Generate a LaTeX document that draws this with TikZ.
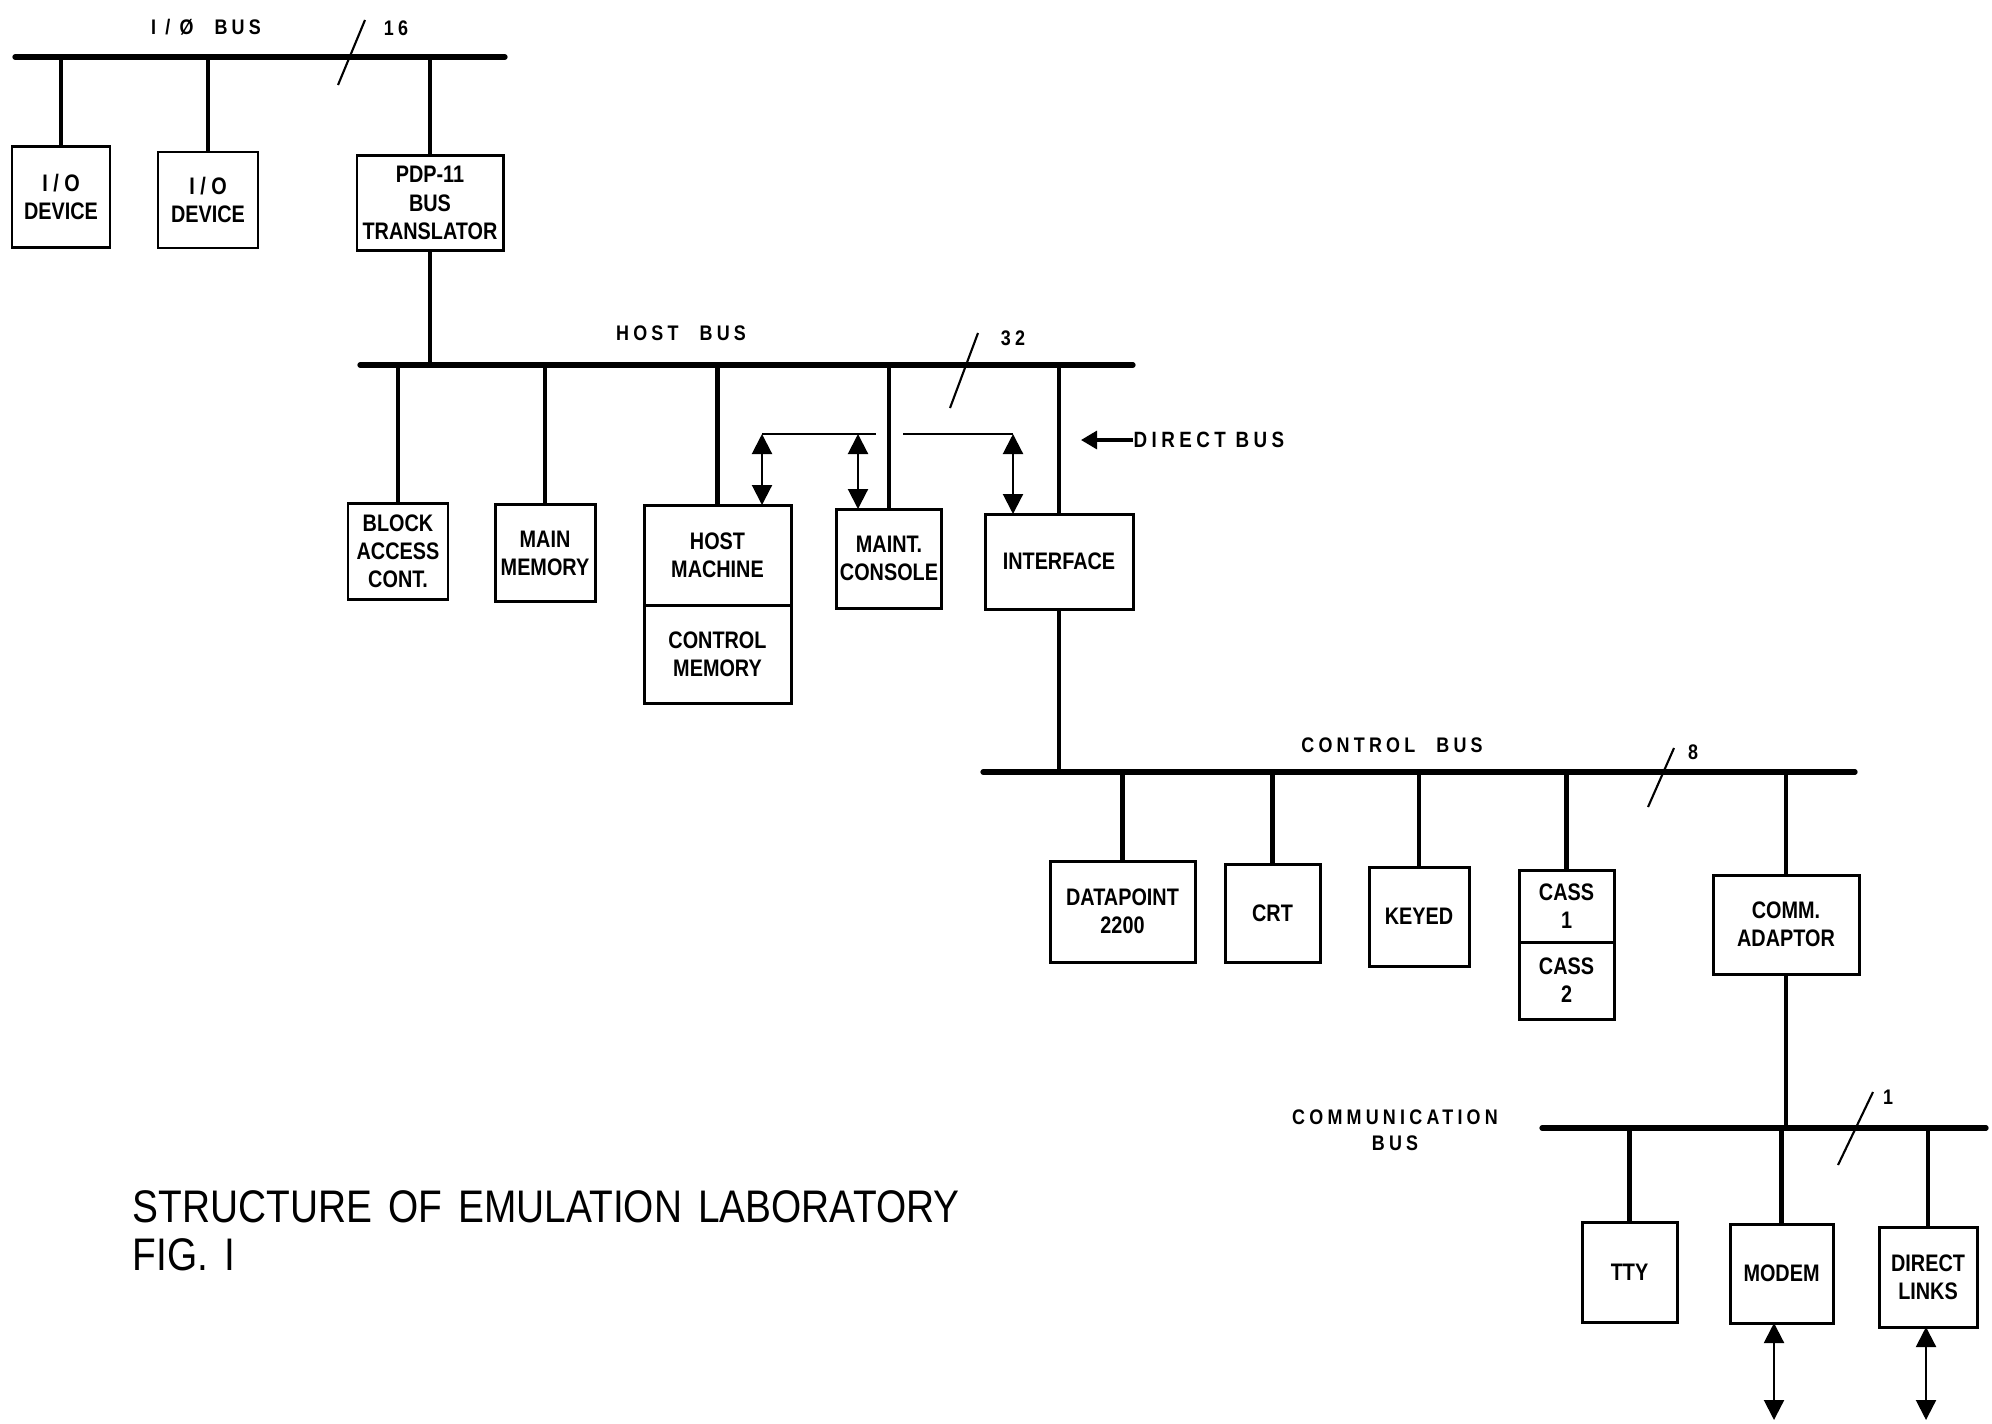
\documentclass[tikz,border=0pt]{standalone}
\usepackage{fontspec}
\usepackage{tikz}
\usetikzlibrary{positioning,arrows.meta,calc}
\newfontfamily\boxfont{Liberation Sans}[FakeStretch=0.83]
\newfontfamily\busfont{Liberation Sans}[FakeStretch=0.85,LetterSpace=20]
\newfontfamily\ttlfont{Liberation Sans}[FakeStretch=0.85]
\tikzset{
  bus/.style={line width=1.5pt,line cap=round},
  stem/.style={line width=1.35pt},
  blk/.style={draw,line width=0.85pt,inner sep=1pt,outer sep=0pt,align=center,
    font=\boxfont\bfseries\fontsize{6.8}{8}\selectfont},
  buslbl/.style={inner sep=0pt,align=center,font=\busfont\bfseries\fontsize{6}{7.4}\selectfont},
  slash/.style={line width=0.6pt},
  dline/.style={line width=0.7pt},
  dbl/.style={{Triangle[length=2mm,width=2mm]}-{Triangle[length=2mm,width=2mm]},line width=0.6pt},
  ttl/.style={anchor=base west,inner sep=0pt,font=\ttlfont\fontsize{13}{15}\selectfont},
}
\begin{document}
\begin{tikzpicture}
  \useasboundingbox (0,0) rectangle (19.92,-14.23);
  % ---- I/O bus ----
  \coordinate (iobL) at (0.15,-0.57);
  \coordinate (iobR) at (5.05,-0.57);
  \draw[bus] (iobL) -- (iobR);
  \node[buslbl] (ioblbl) at (2.06,-0.27) {I / Ø\quad BUS};
  \draw[slash] (3.38,-0.85) -- (3.65,-0.20);
  \node[buslbl] (iobw) at (3.96,-0.28) {16};
  \node[blk,minimum width=0.98cm,minimum height=1.01cm] (dev1) at (0.61,-1.97) {I / O\\DEVICE};
  \node[blk,minimum width=1.00cm,minimum height=0.96cm] (dev2) at (2.08,-2.00) {I / O\\DEVICE};
  \node[blk,minimum width=1.46cm,minimum height=0.95cm] (pdp) at (4.30,-2.03) {PDP-11\\BUS\\TRANSLATOR};
  \foreach \n in {dev1,dev2,pdp}
    \draw[stem] (\n.north) -- (\n.north |- iobL);
  % ---- host bus ----
  \coordinate (hbL) at (3.60,-3.65);
  \coordinate (hbR) at (11.33,-3.65);
  \draw[bus] (hbL) -- (hbR);
  \draw[stem] (pdp.south) -- (pdp.south |- hbL);
  \node[buslbl] (hblbl) at (6.81,-3.33) {HOST\quad BUS};
  \draw[slash] (9.50,-4.08) -- (9.78,-3.33);
  \node[buslbl] (hbw) at (10.13,-3.38) {32};
  \node[blk,minimum width=1.00cm,minimum height=0.96cm] (bac) at (3.98,-5.51) {BLOCK\\ACCESS\\CONT.};
  \node[blk,minimum width=1.00cm,minimum height=0.97cm] (mmem) at (5.45,-5.53) {MAIN\\MEMORY};
  \node[blk,minimum width=1.47cm,minimum height=1.00cm] (hostm) at (7.175,-5.55) {HOST\\MACHINE};
  \node[blk,minimum width=1.47cm,minimum height=0.98cm,below=0pt of hostm] (ctlm) {CONTROL\\MEMORY};
  \node[blk,minimum width=1.04cm,minimum height=0.99cm] (mcons) at (8.89,-5.585) {MAINT.\\CONSOLE};
  \node[blk,minimum width=1.48cm,minimum height=0.95cm] (intf) at (10.59,-5.615) {INTERFACE};
  \foreach \n in {bac,mmem,hostm,mcons,intf}
    \draw[stem] (\n.north) -- (\n.north |- hbL);
  % direct bus
  \coordinate (dbA) at (7.62,-4.34);
  \coordinate (dbB) at (8.58,-4.34);
  \coordinate (gapL) at (8.76,-4.34);
  \coordinate (gapR) at (9.03,-4.34);
  \coordinate (dbC) at (10.13,-4.34);
  \draw[dline] (dbA) -- (gapL);
  \draw[dline] (gapR) -- (dbC);
  \draw[dbl] (dbA) -- (dbA |- hostm.north);
  \draw[dbl] (dbB) -- (dbB |- mcons.north);
  \draw[dbl] (dbC) -- (dbC |- intf.north);
  \node[buslbl,anchor=west,font=\busfont\bfseries\fontsize{6.3}{7.4}\selectfont] (dblbl) at (11.33,-4.40) {DIRECT\ BUS};
  \draw[line width=0.9pt,-{Triangle[length=1.6mm,width=1.8mm]}] (dblbl.west) -- ++(-0.52,0);
  % ---- control bus ----
  \coordinate (cbL) at (9.83,-7.72);
  \coordinate (cbR) at (18.55,-7.72);
  \draw[bus] (cbL) -- (cbR);
  \draw[stem] (intf.south) -- (intf.south |- cbL);
  \node[buslbl] (cblbl) at (13.92,-7.45) {CONTROL\quad BUS};
  \draw[slash] (16.48,-8.07) -- (16.74,-7.48);
  \node[buslbl] (cbw) at (16.93,-7.52) {8};
  \node[blk,minimum width=1.45cm,minimum height=1.01cm] (dp) at (11.225,-9.115) {DATAPOINT\\2200};
  \node[blk,minimum width=0.95cm,minimum height=0.98cm] (crt) at (12.725,-9.13) {CRT};
  \node[blk,minimum width=1.00cm,minimum height=0.99cm] (keyed) at (14.19,-9.165) {KEYED};
  \node[blk,minimum width=0.95cm,minimum height=0.72cm] (cass1) at (15.665,-9.06) {CASS\\1};
  \node[blk,minimum width=0.95cm,minimum height=0.77cm,below=0pt of cass1] (cass2) {CASS\\2};
  \node[blk,minimum width=1.46cm,minimum height=0.99cm] (comm) at (17.86,-9.245) {COMM.\\ADAPTOR};
  \foreach \n in {dp,crt,keyed,cass1,comm}
    \draw[stem] (\n.north) -- (\n.north |- cbL);
  % ---- communication bus ----
  \coordinate (mbL) at (15.42,-11.28);
  \coordinate (mbR) at (19.86,-11.28);
  \draw[bus] (mbL) -- (mbR);
  \node[buslbl] (mblbl) at (13.95,-11.30) {COMMUNICATION\\BUS};
  \draw[slash] (18.38,-11.65) -- (18.73,-10.92);
  \node[buslbl] (mbw) at (18.88,-10.97) {1};
  \node[blk,minimum width=0.95cm,minimum height=1.00cm] (tty) at (16.295,-12.72) {TTY};
  \node[blk,minimum width=1.03cm,minimum height=0.99cm] (modem) at (17.815,-12.735) {MODEM};
  \node[blk,minimum width=0.98cm,minimum height=1.00cm] (dlinks) at (19.28,-12.77) {DIRECT\\LINKS};
  \draw[stem] (comm.south) -- (comm.south |- mbL);
  \foreach \n in {tty,modem,dlinks}
    \draw[stem] (\n.north) -- (\n.north |- mbL);
  \coordinate (mdmout) at (17.74,-14.20);
  \coordinate (dlout) at (19.26,-14.20);
  \draw[dbl] (mdmout |- modem.south) -- (mdmout);
  \draw[dbl] (dlout |- dlinks.south) -- (dlout);
  % ---- caption ----
  \node[ttl] (title) at (1.32,-12.22) {STRUCTURE\hspace{4.6pt}OF\hspace{4.6pt}EMULATION\hspace{4.6pt}LABORATORY};
  \node[ttl] (fig) at (1.32,-12.70) {FIG.\hspace{4.6pt}I};
\end{tikzpicture}
\end{document}
